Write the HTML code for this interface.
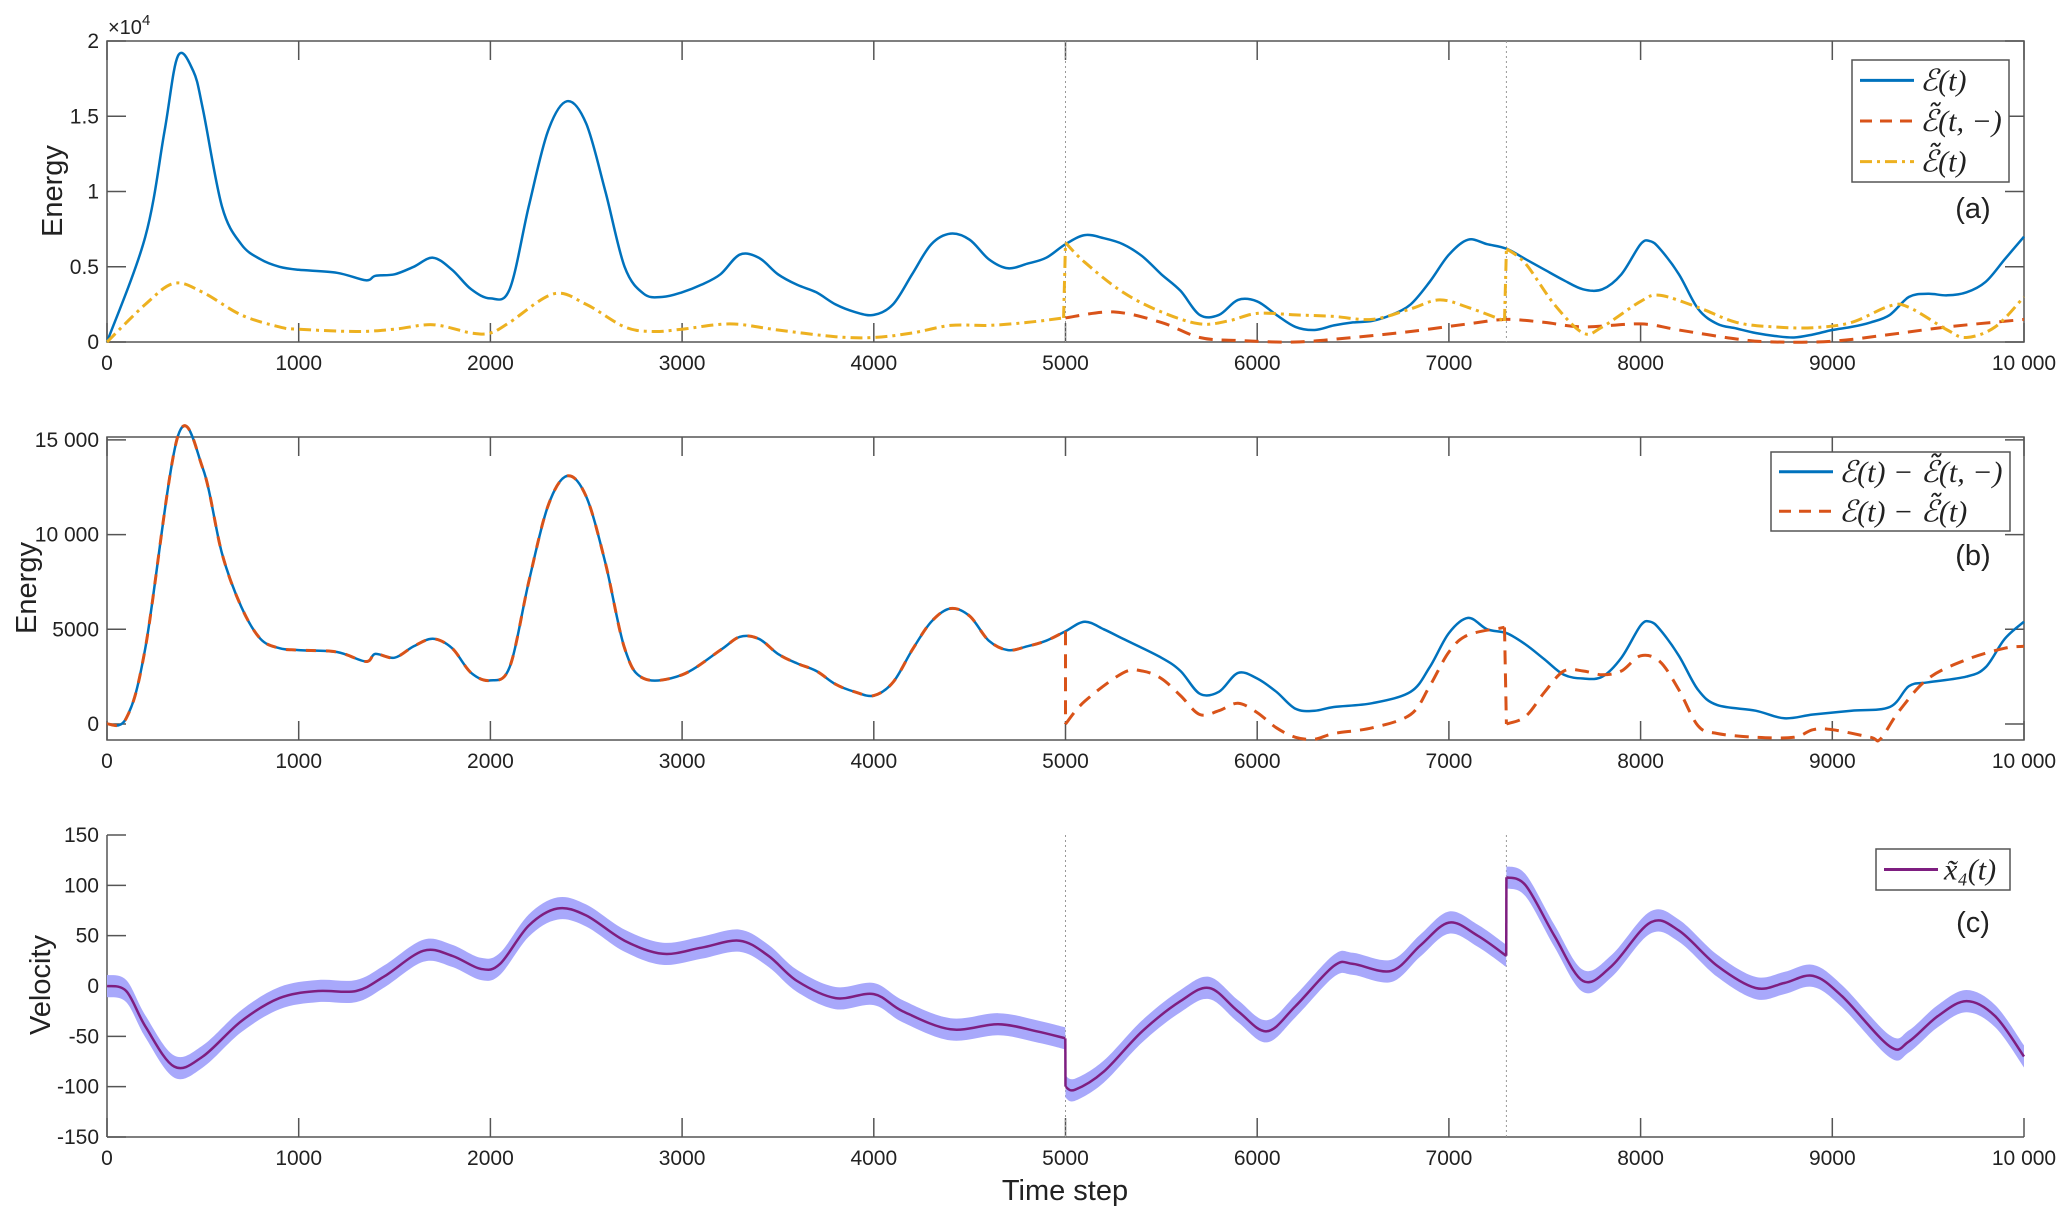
<!DOCTYPE html>
<html><head><meta charset="utf-8">
<style>
body{margin:0;background:#fff;}
svg{display:block;}
text{font-family:"Liberation Sans",sans-serif;fill:#222;}
.tk{font-size:21px;}
.lab{font-size:29px;}
.math{font-family:"Liberation Serif","DejaVu Serif",serif;font-style:italic;font-size:30px;}
</style></head>
<body>
<svg id="fig" width="2067" height="1218" viewBox="0 0 2067 1218"></svg>
<script>
// ---- data (time, value) ----
const aEt = [0,200,300,370,450,500,600,700,800,900,1000,1200,1350,1400,1500,1600,1700,1800,1900,2000,2100,2200,2300,2400,2500,2600,2700,2800,2900,3000,3100,3200,3300,3400,3500,3600,3700,3800,3900,4000,4100,4200,4300,4400,4500,4600,4700,4800,4900,5000,5100,5200,5300,5400,5500,5600,5700,5800,5900,6000,6100,6200,6300,6400,6500,6600,6700,6800,6900,7000,7100,7200,7300,7400,7500,7600,7700,7800,7900,8000,8050,8100,8200,8300,8400,8500,8600,8700,8800,8900,9000,9100,9200,9300,9400,9500,9600,9700,9800,9900,10000];
const aEv = [0,7000,14000,19000,18000,15500,9000,6500,5500,5000,4800,4600,4100,4400,4500,5000,5600,4800,3500,2900,3500,9000,14000,16000,14500,10000,5000,3200,3000,3300,3800,4500,5800,5600,4500,3800,3300,2500,2000,1800,2500,4500,6500,7200,6800,5500,4900,5200,5600,6500,7100,6900,6500,5700,4500,3400,1800,1800,2800,2700,1800,1000,800,1100,1300,1400,1800,2500,4000,5800,6800,6500,6200,5500,4800,4100,3500,3500,4500,6500,6700,6200,4500,2200,1200,900,600,400,300,500,800,1000,1300,1800,3000,3200,3100,3300,4000,5500,7000];
const aOt1 = [0,200,350,500,700,900,1000,1300,1500,1700,1900,2000,2100,2330,2500,2700,2850,3000,3250,3500,3800,4000,4200,4400,4600,4800,4990];
const aOv1 = [0,2500,3900,3300,1800,1000,850,700,850,1150,600,600,1300,3200,2500,1000,700,850,1200,800,350,300,600,1100,1100,1300,1600];
const aOt2 = [5000,5100,5300,5500,5700,5850,6000,6200,6400,6600,6800,6950,7100,7290];
const aOv2 = [6600,5300,3300,2000,1200,1400,1900,1800,1700,1500,2200,2800,2300,1400];
const aOt3 = [7300,7400,7550,7700,7800,8000,8100,8300,8500,8700,8900,9100,9300,9400,9600,9700,9850,10000];
const aOv3 = [6200,5200,2500,600,1000,2700,3100,2300,1300,1000,950,1300,2400,2300,800,300,1000,3000];
const aRt = [5000,5250,5500,5700,5900,6200,6500,6800,7100,7300,7500,7700,8000,8200,8500,8700,9000,9300,9600,10000];
const aRv = [1600,2000,1300,300,100,0,300,700,1200,1500,1300,1000,1200,800,200,0,50,500,1000,1500];

const bBt = [0,100,200,370,500,600,700,800,900,1000,1200,1350,1400,1500,1600,1700,1800,1900,2000,2100,2200,2300,2400,2500,2600,2700,2800,3000,3200,3300,3400,3500,3600,3700,3800,3900,4000,4100,4200,4300,4400,4500,4600,4700,4800,4900,5000,5100,5200,5300,5500,5600,5700,5800,5900,6000,6100,6200,6300,6400,6600,6800,6900,7000,7100,7200,7300,7400,7500,7600,7700,7800,7900,8000,8050,8100,8200,8300,8400,8600,8750,8900,9100,9300,9400,9500,9700,9800,9900,10000];
const bBv = [0,300,4000,15200,13500,9000,6200,4500,4000,3900,3800,3300,3700,3500,4100,4500,4000,2700,2300,3000,7500,11500,13100,12000,8500,4000,2400,2600,3900,4600,4500,3700,3200,2800,2100,1700,1500,2200,3900,5400,6100,5700,4400,3900,4100,4400,4900,5400,5000,4500,3500,2800,1600,1700,2700,2400,1700,800,700,900,1100,1700,3000,4800,5600,5000,4800,4200,3400,2600,2400,2500,3500,5200,5400,5000,3600,1800,1000,700,300,500,700,900,2000,2200,2500,3000,4500,5400];
const bRt1 = [5000,5100,5300,5400,5500,5600,5700,5800,5900,6000,6100,6200,6300,6400,6600,6800,6900,7000,7100,7290];
const bRv1 = [0,1200,2700,2800,2400,1500,500,700,1100,600,-200,-700,-800,-500,-200,500,2000,3800,4700,5100];
const bRt2 = [7300,7400,7500,7600,7700,7800,7900,8000,8100,8200,8300,8400,8600,8800,8900,9000,9200,9250,9350,9500,9700,9900,10000];
const bRv2 = [0,400,1700,2800,2800,2600,2800,3600,3300,1800,-100,-500,-700,-700,-300,-300,-700,-800,700,2400,3400,4000,4100];

const cT1 = [0,100,200,350,500,700,900,1100,1300,1450,1650,1800,1950,2050,2200,2350,2500,2700,2900,3100,3300,3450,3600,3800,4000,4150,4400,4650,4850,4999];
const cV1 = [0,-5,-40,-80,-70,-35,-12,-5,-5,10,35,30,17,22,60,77,70,45,32,38,45,30,5,-12,-8,-25,-43,-38,-45,-52];
const cT2 = [5000,5050,5200,5400,5600,5750,5900,6050,6200,6400,6500,6700,6850,7000,7150,7299];
const cV2 = [-100,-103,-85,-45,-15,-2,-25,-45,-20,20,22,15,40,63,50,30];
const cT3 = [7300,7400,7550,7700,7850,8050,8200,8400,8600,8750,8900,9050,9300,9400,9550,9700,9850,10000];
const cV3 = [108,100,50,5,20,63,55,20,-2,3,10,-10,-60,-55,-30,-15,-30,-70];
const bandHalf = 11;

const xTicks = [0,1000,2000,3000,4000,5000,6000,7000,8000,9000,10000];
const xTickLabels = ['0','1000','2000','3000','4000','5000','6000','7000','8000','9000','10 000'];
const aYTicks = [0,5000,10000,15000,20000];
const aYLabels = ['0','0.5','1','1.5','2'];
const bYTicks = [0,5000,10000,15000];
const bYLabels = ['0','5000','10 000','15 000'];
const cYTicks = [-150,-100,-50,0,50,100,150];
const cYLabels = ['-150','-100','-50','0','50','100','150'];
const switches = [5000,7300];

// ---- scales ----
const X0=107, X1=2024;
const X = t => X0 + t*(X1-X0)/10000;
const A = {top:41,bot:342, y:v=>342 - v*(342-41)/20000};
const B = {top:437,bot:740, y:v=>724 - v*94.7/5000};
const C = {top:835,bot:1137, y:v=>986 - v*302/300};

const svg = document.getElementById('fig');
const NS='http://www.w3.org/2000/svg';
function mk(tag, attrs, parent){ const e=document.createElementNS(NS,tag); for(const k in attrs) e.setAttribute(k,attrs[k]); (parent||svg).appendChild(e); return e; }

function pts(ts,vs,sy){ return ts.map((t,i)=>[X(t),sy(vs[i])]); }
function spline(p){
  let d='M'+p[0][0].toFixed(1)+','+p[0][1].toFixed(1);
  for(let i=0;i<p.length-1;i++){
    const p0=p[i-1]||p[i], p1=p[i], p2=p[i+1], p3=p[i+2]||p[i+1];
    const c1=[p1[0]+(p2[0]-p0[0])/6, p1[1]+(p2[1]-p0[1])/6];
    const c2=[p2[0]-(p3[0]-p1[0])/6, p2[1]-(p3[1]-p1[1])/6];
    d+=' C'+c1[0].toFixed(1)+','+c1[1].toFixed(1)+' '+c2[0].toFixed(1)+','+c2[1].toFixed(1)+' '+p2[0].toFixed(1)+','+p2[1].toFixed(1);
  }
  return d;
}
function line(ts,vs,sy,style,name){
  const e=mk('path',Object.assign({d:spline(pts(ts,vs,sy)),fill:'none','stroke-linejoin':'round'},style));
  
  
  return e;
}
function axes(P,yt,yl,box,name){
  const g=mk('g',{});
  
  
  const st={stroke:'#555','stroke-width':1.5,fill:'none'};
  if(box) mk('rect',Object.assign({x:X0,y:P.top,width:X1-X0,height:P.bot-P.top},st),g);
  else { mk('line',Object.assign({x1:X0,y1:P.top,x2:X0,y2:P.bot},st),g); mk('line',Object.assign({x1:X0,y1:P.bot,x2:X1,y2:P.bot},st),g); }
  xTicks.forEach((t,i)=>{
    mk('line',Object.assign({x1:X(t),y1:P.bot,x2:X(t),y2:P.bot-19},st),g);
    if(box) mk('line',Object.assign({x1:X(t),y1:P.top,x2:X(t),y2:P.top+19},st),g);
    const tx=mk('text',{x:X(t),y:P.bot+28,'text-anchor':'middle',class:'tk'},g); tx.textContent=xTickLabels[i];
  });
  yt.forEach((v,i)=>{
    const y=P.y(v);
    mk('line',Object.assign({x1:X0,y1:y,x2:X0+19,y2:y},st),g);
    if(box) mk('line',Object.assign({x1:X1,y1:y,x2:X1-19,y2:y},st),g);
    const tx=mk('text',{x:X0-8,y:y+7,'text-anchor':'end',class:'tk'},g); tx.textContent=yl[i];
  });
}
function vlines(P){
  switches.forEach(s=>{
    const e=mk('line',{x1:X(s),y1:P.top,x2:X(s),y2:P.bot,stroke:'#999','stroke-width':1,'stroke-dasharray':'2,3'});
    
    
  });
}
function label(x,y,txt,name,rot){
  const t=mk('text',{x:x,y:y,'text-anchor':'middle',class:'lab',transform:rot?`rotate(-90 ${x} ${y})`:''});
  t.textContent=txt;   return t;
}

const BLUE='#0072BD', RED='#D95319', ORG='#EDB120', PUR='#7E1E80';

// ---- panel a ----
axes(A,aYTicks,aYLabels,true,'panel-a-axes');
vlines(A);
line(aRt,aRv,A.y,{stroke:RED,'stroke-width':3,'stroke-dasharray':'14,9'},'a-series-etilde-minus');
line(aEt,aEv,A.y,{stroke:BLUE,'stroke-width':2.5},'a-series-e');
[[aOt1,aOv1],[aOt2,aOv2],[aOt3,aOv3]].forEach(s=>line(s[0],s[1],A.y,{stroke:ORG,'stroke-width':3,'stroke-dasharray':'12,5,3,5'},'a-series-etilde'));
[[4990,1600,5000,6600],[7290,1400,7300,6200]].forEach(j=>{
  const e=mk('line',{x1:X(j[0]),y1:A.y(j[1]),x2:X(j[2]),y2:A.y(j[3]),stroke:ORG,'stroke-width':3,'stroke-dasharray':'12,5,3,5'});
   
});
let t=mk('text',{x:108,y:34,style:'font-size:20px'}); t.innerHTML='×10<tspan dy="-9" style="font-size:15px">4</tspan>';
 
label(62,191,'Energy','a-y-axis-title',true);
label(1973,218,'(a)','a-panel-label');

// ---- panel b ----
axes(B,bYTicks,bYLabels,true,'panel-b-axes');
line(bBt,bBv,B.y,{stroke:BLUE,'stroke-width':2.5},'b-series-e-minus-etilde-minus');
const pre=bBt.filter(x=>x<=5000).length;
line(bBt.slice(0,pre),bBv.slice(0,pre),B.y,{stroke:RED,'stroke-width':3,'stroke-dasharray':'10,10'},'b-series-e-minus-etilde-pre');
[[bRt1,bRv1],[bRt2,bRv2]].forEach(s=>line(s[0],s[1],B.y,{stroke:RED,'stroke-width':3,'stroke-dasharray':'14,9'},'b-series-e-minus-etilde'));
[[5000,4900,5000,0],[7290,5100,7300,0]].forEach(j=>{
  const e=mk('line',{x1:X(j[0]),y1:B.y(j[1]),x2:X(j[2]),y2:B.y(j[3]),stroke:RED,'stroke-width':3,'stroke-dasharray':'14,9'});
   
});
label(36,588,'Energy','b-y-axis-title',true);
label(1973,565,'(b)','b-panel-label');

// ---- panel c ----
axes(C,cYTicks,cYLabels,false,'panel-c-axes');
vlines(C);
[[cT1,cV1],[cT2,cV2],[cT3,cV3]].forEach(s=>{
  const up=pts(s[0],s[1].map(v=>v+bandHalf),C.y), dn=pts(s[0],s[1].map(v=>v-bandHalf),C.y).reverse();
  const d=spline(up)+' L'+spline(dn).slice(1)+' Z';
  const e=mk('path',{d:d,fill:'#a8a8fb',stroke:'none'});
   
});
[[cT1,cV1],[cT2,cV2],[cT3,cV3]].forEach(s=>line(s[0],s[1],C.y,{stroke:PUR,'stroke-width':2.5},'c-series-x4'));
[[4999,-52,5000,-100],[7299,30,7300,108]].forEach(j=>{
  const e=mk('line',{x1:X(j[0]),y1:C.y(j[1]),x2:X(j[2]),y2:C.y(j[3]),stroke:PUR,'stroke-width':2.5});
   
});
label(50,985,'Velocity','c-y-axis-title',true);
label(1973,932,'(c)','c-panel-label');
label(1065,1200,'Time step','x-axis-title');

// ---- legends ----
function legend(x,y,w,h,entries,name){
  const g=mk('g',{});  
  mk('rect',{x:x,y:y,width:w,height:h,fill:'#fff',stroke:'#555','stroke-width':1.5},g);
  const rh=h/entries.length;
  entries.forEach((en,i)=>{
    const cy=y+rh*(i+0.5);
    mk('line',Object.assign({x1:x+8,y1:cy,x2:x+62,y2:cy,'stroke-width':3},en.style),g);
    const tx=mk('text',{x:x+68,y:cy+10,class:'math'},g); tx.textContent=en.text;
  });
}
legend(1852,60,157,122,[
 {style:{stroke:BLUE},text:'ℰ(t)'},
 {style:{stroke:RED,'stroke-dasharray':'12,8'},text:'ℰ̃(t, −)'},
 {style:{stroke:ORG,'stroke-dasharray':'12,5,3,5'},text:'ℰ̃(t)'}],'a-legend');
legend(1771,452,239,79,[
 {style:{stroke:BLUE},text:'ℰ(t) − ℰ̃(t, −)'},
 {style:{stroke:RED,'stroke-dasharray':'12,8'},text:'ℰ(t) − ℰ̃(t)'}],'b-legend');
legend(1876,849,134,41,[
 {style:{stroke:PUR},text:'x̃₄(t)'}],'c-legend');
</script>
</body></html>
